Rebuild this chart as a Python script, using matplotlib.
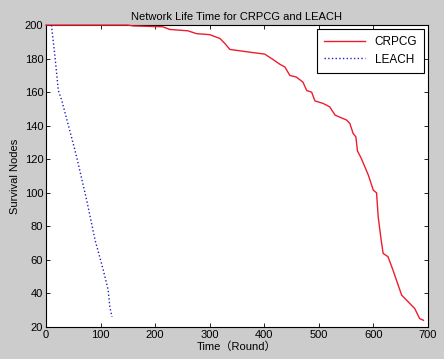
import matplotlib
matplotlib.use("Agg")
import matplotlib.pyplot as plt

plt.rcParams['font.family'] = ['Liberation Sans', 'Noto Sans CJK SC', 'DejaVu Sans']

crpcg_rounds = [0, 150, 160, 214, 227, 260, 276, 300, 319, 328, 337, 377, 401, 416, 429,
                438, 447, 459, 471, 478, 487, 493, 508, 520, 530, 551, 557, 563, 568, 571,
                578, 591, 600, 606, 609, 614, 618, 627, 636, 652, 661, 676, 685, 692]
crpcg_nodes = [200, 200, 199.5, 199, 197.4, 196.6, 194.9, 194.3, 192, 189, 185.5, 183.7, 182.7, 179.5, 176.6,
               175, 170, 169, 166, 161, 160, 154.8, 153.3, 151.3, 146.3, 143.4, 141.4, 135.4, 133.4, 125,
               120.5, 110.5, 101.6, 100, 85.7, 72.9, 63.9, 61.9, 54, 39, 36, 31, 25, 24]

leach_rounds = [10, 16.5, 22.6, 29, 53, 59, 74.5, 90, 105, 114, 117, 121]
leach_nodes = [200, 181, 161, 155, 125.5, 117.5, 95.7, 71.8, 54, 42, 32, 26]

x_ticks = [0, 100, 200, 300, 400, 500, 600, 700]
y_ticks = [20, 40, 60, 80, 100, 120, 140, 160, 180, 200]

fig = plt.figure(figsize=(4.44, 3.59), dpi=100, facecolor='#cccccc')
ax = fig.add_axes([0.1036, 0.0891, 0.860, 0.841])
ax.set_facecolor('white')

ax.plot(crpcg_rounds, crpcg_nodes, color='#ee1c2e', lw=1.0, label='CRPCG',
        clip_on=False, zorder=3)
ax.plot(leach_rounds, leach_nodes, color='#2020c0', lw=1.0, ls=':', label='LEACH',
        clip_on=False, zorder=3)

ax.set_xlim(0, 700)
ax.set_ylim(20, 200)
ax.set_xticks(x_ticks)
ax.set_yticks(y_ticks)
ax.tick_params(direction='in', top=True, right=True, labelsize=8, length=3, width=0.6, pad=2)
for s in ax.spines.values():
    s.set_linewidth(0.8)

ax.set_title('Network Life Time for CRPCG and LEACH', fontsize=8, pad=4)
ax.set_xlabel('Time（Round）', fontsize=8, labelpad=1)
ax.set_ylabel('Survival Nodes', fontsize=8, labelpad=3)

leg = ax.legend(loc='upper right', fontsize=8.5, fancybox=False, edgecolor='black',
                framealpha=1, borderaxespad=0.3, handlelength=3.5, labelspacing=0.5,
                borderpad=0.6)
leg.get_frame().set_linewidth(0.8)
leg.set_zorder(5)

fig.savefig('out.png', dpi=100, facecolor=fig.get_facecolor())
